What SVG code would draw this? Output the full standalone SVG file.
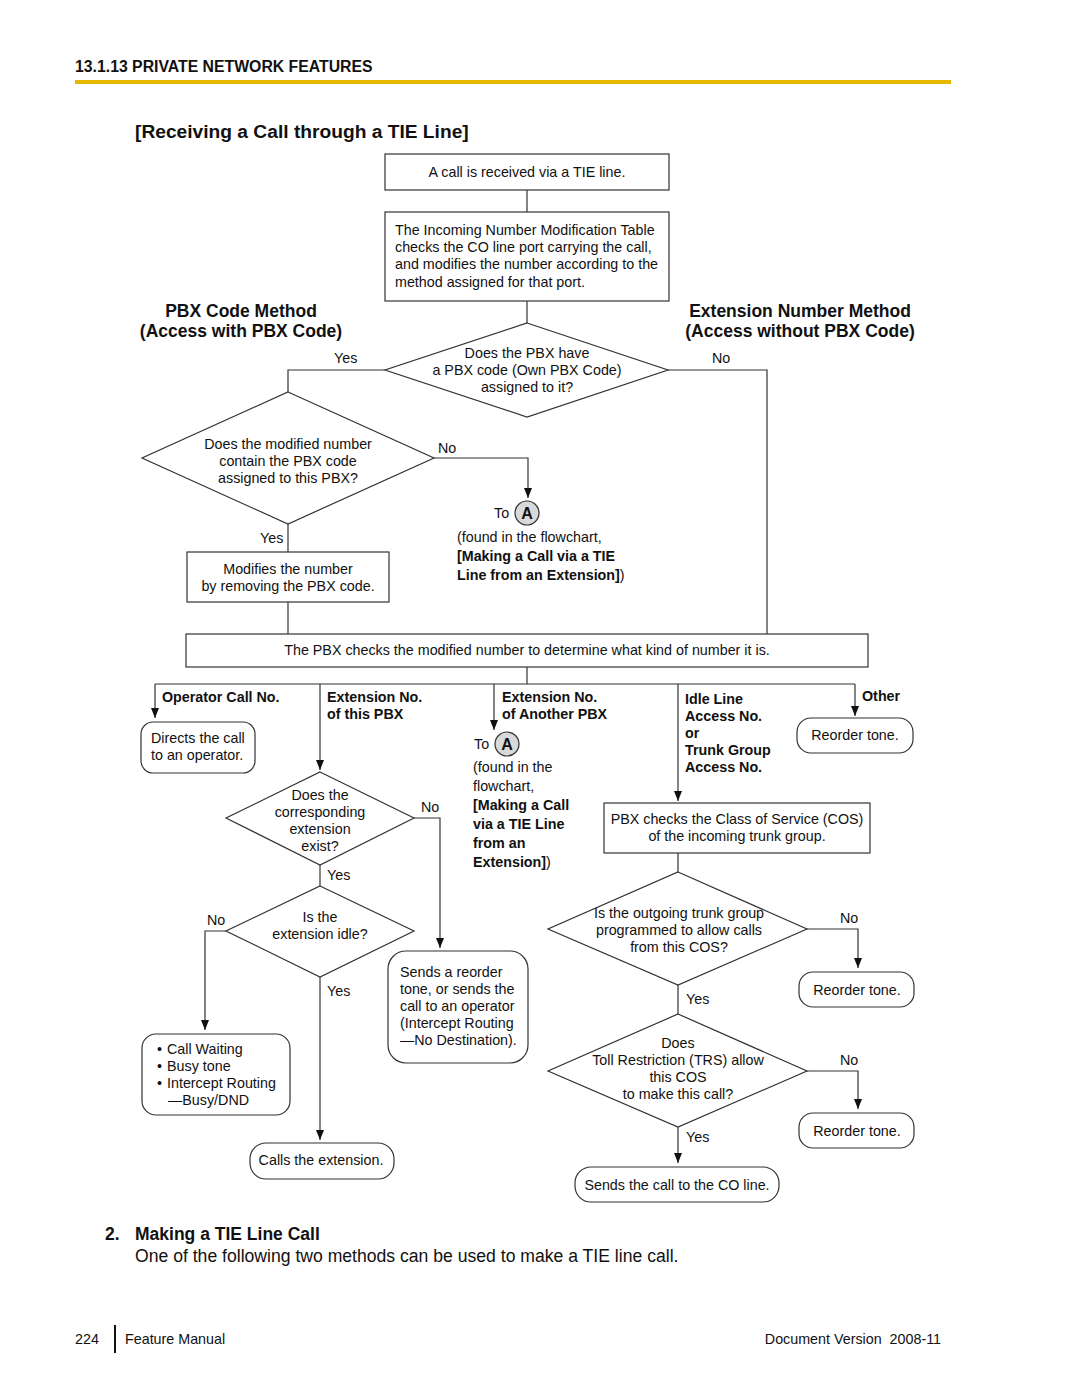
<svg xmlns="http://www.w3.org/2000/svg" width="1080" height="1397" viewBox="0 0 1080 1397">
<style>
text{font-family:"Liberation Sans",Arial,sans-serif;font-size:14.3px;fill:#111}
.b{font-weight:bold}
.c{text-anchor:middle}
.h{font-size:17.5px;font-weight:bold}
.shape{fill:#fff;stroke:#333;stroke-width:1.2}
.ln{fill:none;stroke:#333;stroke-width:1.2}
.ar{fill:none;stroke:#333;stroke-width:1.2;marker-end:url(#ah)}
.circ{fill:#d9d9d9;stroke:#333;stroke-width:1.2}
</style>
<defs>
<marker id="ah" viewBox="0 0 10 10" refX="10" refY="5" markerWidth="10" markerHeight="10" markerUnits="userSpaceOnUse" orient="auto">
<path d="M0,1 L10,5 L0,9 Z" fill="#111"/>
</marker>
</defs>
<rect width="1080" height="1397" fill="#fff"/>
<g id="header">
<text x="75" y="72" class="b" style="font-size:15.8px">13.1.13 PRIVATE NETWORK FEATURES</text>
<rect x="75" y="80" width="876" height="4" fill="#e6b800"/>
<text x="135" y="138" class="b" style="font-size:19.2px">[Receiving a Call through a TIE Line]</text>
</g>
<g id="connectors">
<path class="ln" d="M527,190 V212"/>
<path class="ln" d="M527,301 V323"/>
<path class="ln" d="M385,370 H288 V392"/>
<path class="ln" d="M668,370 H767 V634"/>
<path class="ar" d="M434,458 H528 V498"/>
<path class="ln" d="M288,524 V552"/>
<path class="ln" d="M288,602 V634"/>
<path class="ln" d="M527,667 V684"/>
<path class="ln" d="M155,684 H855"/>
<path class="ar" d="M155,684 V718"/>
<path class="ar" d="M320,684 V770"/>
<path class="ar" d="M494,684 V730"/>
<path class="ar" d="M678,684 V801"/>
<path class="ar" d="M855,684 V716"/>
<path class="ar" d="M414,818 H440 V948"/>
<path class="ln" d="M320,865 V886"/>
<path class="ar" d="M226,931 H205 V1030"/>
<path class="ar" d="M320,977 V1140"/>
<path class="ln" d="M678,853 V872"/>
<path class="ar" d="M807,929 H858 V968"/>
<path class="ln" d="M678,985 V1014"/>
<path class="ar" d="M807,1071 H858 V1109"/>
<path class="ar" d="M678,1127 V1163"/>
</g>
<g id="labels">
<text x="241" y="317" class="h c">PBX Code Method</text>
<text x="241" y="337" class="h c">(Access with PBX Code)</text>
<text x="800" y="317" class="h c">Extension Number Method</text>
<text x="800" y="337" class="h c">(Access without PBX Code)</text>
<text x="334" y="363">Yes</text>
<text x="712" y="363">No</text>
<text x="438" y="453">No</text>
<text x="260" y="543">Yes</text>
<text x="162" y="702" class="b">Operator Call No.</text>
<text x="327" y="702" class="b">Extension No.</text>
<text x="327" y="719" class="b">of this PBX</text>
<text x="502" y="702" class="b">Extension No.</text>
<text x="502" y="719" class="b">of Another PBX</text>
<text x="685" y="704" class="b">Idle Line</text>
<text x="685" y="721" class="b">Access No.</text>
<text x="685" y="738" class="b">or</text>
<text x="685" y="755" class="b">Trunk Group</text>
<text x="685" y="772" class="b">Access No.</text>
<text x="862" y="701" class="b">Other</text>
<text x="421" y="812">No</text>
<text x="327" y="880">Yes</text>
<text x="207" y="925">No</text>
<text x="327" y="996">Yes</text>
<text x="840" y="923">No</text>
<text x="686" y="1004">Yes</text>
<text x="840" y="1065">No</text>
<text x="686" y="1142">Yes</text>
</g>
<g id="n1"><rect class="shape" x="385" y="154" width="284" height="36"/>
<text x="527" y="177" class="c">A call is received via a TIE line.</text></g>
<g id="n2"><rect class="shape" x="385" y="212" width="284" height="89"/>
<text x="395" y="235">The Incoming Number Modification Table</text>
<text x="395" y="252">checks the CO line port carrying the call,</text>
<text x="395" y="269">and modifies the number according to the</text>
<text x="395" y="287">method assigned for that port.</text></g>
<g id="d1"><polygon class="shape" points="527,323 668,370 527,417 385,370"/>
<text x="527" y="358" class="c">Does the PBX have</text>
<text x="527" y="375" class="c">a PBX code (Own PBX Code)</text>
<text x="527" y="392" class="c">assigned to it?</text></g>
<g id="d2"><polygon class="shape" points="288,392 434,458 288,524 142,458"/>
<text x="288" y="449" class="c">Does the modified number</text>
<text x="288" y="466" class="c">contain the PBX code</text>
<text x="288" y="483" class="c">assigned to this PBX?</text></g>
<g id="toA1">
<text x="494" y="518">To</text>
<circle class="circ" cx="527" cy="513" r="12"/>
<text x="527" y="519" class="c b" style="font-size:16px">A</text>
<text x="457" y="542">(found in the flowchart,</text>
<text x="457" y="561" class="b">[Making a Call via a TIE</text>
<text x="457" y="580"><tspan class="b">Line from an Extension]</tspan>)</text>
</g>
<g id="n3"><rect class="shape" x="187" y="552" width="202" height="50"/>
<text x="288" y="574" class="c">Modifies the number</text>
<text x="288" y="591" class="c">by removing the PBX code.</text></g>
<g id="n4"><rect class="shape" x="186" y="634" width="682" height="33"/>
<text x="527" y="655" class="c">The PBX checks the modified number to determine what kind of number it is.</text></g>
<g id="n5"><rect class="shape" x="141" y="722" width="114" height="51" rx="12"/>
<text x="151" y="743">Directs the call</text>
<text x="151" y="760">to an operator.</text></g>
<g id="toA2">
<text x="474" y="749">To</text>
<circle class="circ" cx="507" cy="744" r="12"/>
<text x="507" y="750" class="c b" style="font-size:16px">A</text>
<text x="473" y="772">(found in the</text>
<text x="473" y="791">flowchart,</text>
<text x="473" y="810" class="b">[Making a Call</text>
<text x="473" y="829" class="b">via a TIE Line</text>
<text x="473" y="848" class="b">from an</text>
<text x="473" y="867"><tspan class="b">Extension]</tspan>)</text>
</g>
<g id="n6"><rect class="shape" x="797" y="718" width="116" height="35" rx="14"/>
<text x="855" y="740" class="c">Reorder tone.</text></g>
<g id="n7"><rect class="shape" x="604" y="803" width="266" height="50"/>
<text x="737" y="824" class="c">PBX checks the Class of Service (COS)</text>
<text x="737" y="841" class="c">of the incoming trunk group.</text></g>
<g id="d3"><polygon class="shape" points="320,772 414,818 320,865 226,818"/>
<text x="320" y="800" class="c">Does the</text>
<text x="320" y="817" class="c">corresponding</text>
<text x="320" y="834" class="c">extension</text>
<text x="320" y="851" class="c">exist?</text></g>
<g id="d4"><polygon class="shape" points="320,886 414,931 320,977 226,931"/>
<text x="320" y="922" class="c">Is the</text>
<text x="320" y="939" class="c">extension idle?</text></g>
<g id="n8"><rect class="shape" x="388" y="951" width="140" height="112" rx="18"/>
<text x="400" y="977">Sends a reorder</text>
<text x="400" y="994">tone, or sends the</text>
<text x="400" y="1011">call to an operator</text>
<text x="400" y="1028">(Intercept Routing</text>
<text x="400" y="1045">—No Destination).</text></g>
<g id="n9"><rect class="shape" x="142" y="1034" width="148" height="81" rx="14"/>
<text x="157" y="1054">•</text><text x="167" y="1054">Call Waiting</text>
<text x="157" y="1071">•</text><text x="167" y="1071">Busy tone</text>
<text x="157" y="1088">•</text><text x="167" y="1088">Intercept Routing</text>
<text x="168" y="1105">—Busy/DND</text></g>
<g id="n10"><rect class="shape" x="250" y="1143" width="144" height="36" rx="16"/>
<text x="321" y="1165" class="c">Calls the extension.</text></g>
<g id="d5"><polygon class="shape" points="678,872 807,929 678,985 548,929"/>
<text x="679" y="918" class="c">Is the outgoing trunk group</text>
<text x="679" y="935" class="c">programmed to allow calls</text>
<text x="679" y="952" class="c">from this COS?</text></g>
<g id="n11"><rect class="shape" x="799" y="972" width="115" height="35" rx="14"/>
<text x="857" y="995" class="c">Reorder tone.</text></g>
<g id="d6"><polygon class="shape" points="678,1014 807,1071 678,1127 548,1071"/>
<text x="678" y="1048" class="c">Does</text>
<text x="678" y="1065" class="c">Toll Restriction (TRS) allow</text>
<text x="678" y="1082" class="c">this COS</text>
<text x="678" y="1099" class="c">to make this call?</text></g>
<g id="n12"><rect class="shape" x="799" y="1113" width="115" height="35" rx="14"/>
<text x="857" y="1136" class="c">Reorder tone.</text></g>
<g id="n13"><rect class="shape" x="575" y="1167" width="204" height="35" rx="16"/>
<text x="677" y="1190" class="c">Sends the call to the CO line.</text></g>
<g id="footer">
<text x="105" y="1240" class="h">2.</text>
<text x="135" y="1240" class="h">Making a TIE Line Call</text>
<text x="135" y="1262" style="font-size:17.6px">One of the following two methods can be used to make a TIE line call.</text>
<text x="75" y="1344">224</text>
<rect x="114" y="1325" width="2" height="28" fill="#111"/>
<text x="125" y="1344">Feature Manual</text>
<text x="941" y="1344" style="text-anchor:end">Document Version&#160; 2008-11</text>
</g>
</svg>
